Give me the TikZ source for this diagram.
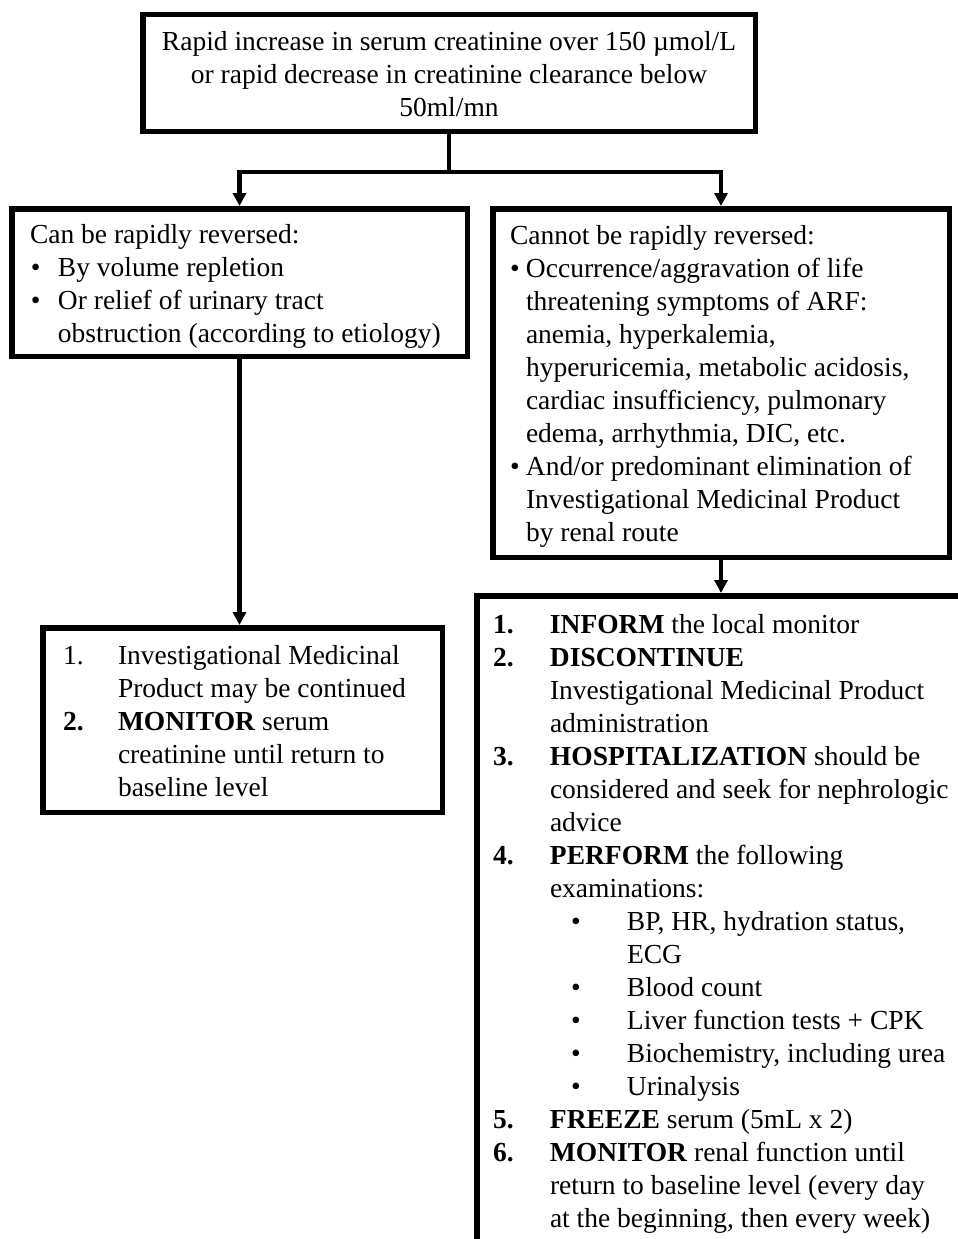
\documentclass[tikz,border=0pt]{standalone}
\usepackage{fontspec}
\setmainfont{Liberation Serif}
\usetikzlibrary{arrows.meta,positioning,calc}
\newcommand{\marker}[2]{\makebox[#1][l]{#2}}
\newcommand{\indentto}[1]{\hspace*{#1}}
\newcommand{\firststrut}{\rule{0pt}{27pt}}
\newcommand{\laststrut}{\rule[-7pt]{0pt}{7pt}}

\begin{document}
\begin{tikzpicture}[
    x=1pt, y=-1pt,
    box/.style={draw, line width=5.5pt, anchor=north west,
      font=\fontsize{27.5}{33}\selectfont, align=flush left},
    link/.style={line width=4.5pt},
    arr/.style={link, -{Triangle[width=13pt,length=13pt]}},
  ]
  \useasboundingbox (0,0) rectangle (958,1239);
  \clip (0,0) rectangle (958,1239);

  % Trigger
  \node[box, align=center, minimum width=612.5pt, minimum height=116.5pt]
    (alert) at (140,12)
    {\firststrut Rapid increase in serum creatinine over 150 µmol/L\\
     or rapid decrease in creatinine clearance below\\
     50ml/mn\laststrut};

  % Reversible
  \node[box, inner xsep=18.25pt, text width=419pt, minimum height=147.5pt]
    (rev) at (9,206)
    {\firststrut Can be rapidly reversed:\\
     \marker{28pt}{\hspace{1pt}\textbullet}By volume repletion\\
     \marker{28pt}{\hspace{1pt}\textbullet}Or relief of urinary tract\\
     \indentto{28pt}obstruction (according to etiology)\laststrut};

  % Not reversible
  \node[box, inner xsep=17.25pt, text width=422pt, minimum height=348.5pt]
    (norev) at (490,206)
    {\firststrut Cannot be rapidly reversed:\\
     \marker{16pt}{\textbullet}Occurrence/aggravation of life\\
     \indentto{16pt}threatening symptoms of ARF:\\
     \indentto{16pt}anemia, hyperkalemia,\\
     \indentto{16pt}hyperuricemia, metabolic acidosis,\\
     \indentto{16pt}cardiac insufficiency, pulmonary\\
     \indentto{16pt}edema, arrhythmia, DIC, etc.\\
     \marker{16pt}{\textbullet}And/or predominant elimination of\\
     \indentto{16pt}Investigational Medicinal Product\\
     \indentto{16pt}by renal route\laststrut};

  % Continue
  \node[box, inner xsep=20.25pt, text width=359pt, minimum height=184.5pt]
    (cont) at (40,625)
    {\firststrut\marker{55pt}{1.}Investigational Medicinal\\
     \indentto{55pt}Product may be continued\\
     \marker{55pt}{\textbf{2.}}\textbf{MONITOR} serum\\
     \indentto{55pt}creatinine until return to\\
     \indentto{55pt}baseline level\laststrut};

  % Discontinue
  \node[box, inner xsep=16.25pt, text width=480pt, minimum height=648.5pt]
    (stop) at (474,593)
    {\firststrut\marker{57pt}{\textbf{1.}}\textbf{INFORM} the local monitor\\
     \marker{57pt}{\textbf{2.}}\textbf{DISCONTINUE}\\
     \indentto{57pt}Investigational Medicinal Product\\
     \indentto{57pt}administration\\
     \marker{57pt}{\textbf{3.}}\textbf{HOSPITALIZATION} should be\\
     \indentto{57pt}considered and seek for nephrologic\\
     \indentto{57pt}advice\\
     \marker{57pt}{\textbf{4.}}\textbf{PERFORM} the following\\
     \indentto{57pt}examinations:\\
     \indentto{57pt}\marker{77pt}{\hspace{21pt}\textbullet}BP, HR, hydration status,\\
     \indentto{134pt}ECG\\
     \indentto{57pt}\marker{77pt}{\hspace{21pt}\textbullet}Blood count\\
     \indentto{57pt}\marker{77pt}{\hspace{21pt}\textbullet}Liver function tests + CPK\\
     \indentto{57pt}\marker{77pt}{\hspace{21pt}\textbullet}Biochemistry, including urea\\
     \indentto{57pt}\marker{77pt}{\hspace{21pt}\textbullet}Urinalysis\\
     \marker{57pt}{\textbf{5.}}\textbf{FREEZE} serum (5mL x 2)\\
     \marker{57pt}{\textbf{6.}}\textbf{MONITOR} renal function until\\
     \indentto{57pt}return to baseline level (every day\\
     \indentto{57pt}at the beginning, then every week)\laststrut};

  % Connectors
  \coordinate (split) at ($(alert.south)+(0,38)$);
  \draw[link] (alert.south) -- (split);
  \draw[arr] (split) -| (rev.north);
  \draw[arr] (split) -| (norev.north);
  \draw[arr] (rev.south) -- (rev.south |- cont.north);
  \draw[arr] (norev.south) -- (norev.south |- stop.north);

\end{tikzpicture}
\end{document}
